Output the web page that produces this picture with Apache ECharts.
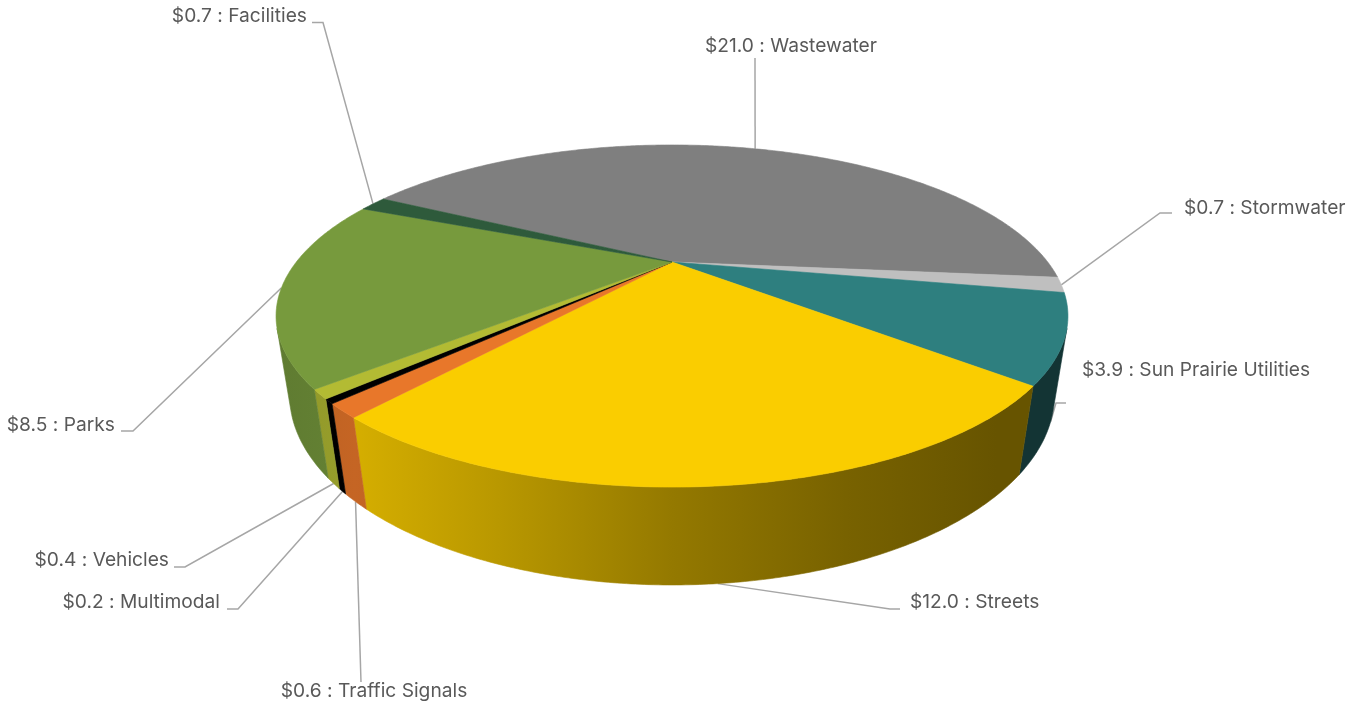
<!DOCTYPE html>
<html>
<head>
<meta charset="utf-8">
<title>Capital spending by program</title>
<script src="https://cdn.jsdelivr.net/npm/echarts@6/dist/echarts.min.js"></script>
<style>
  html, body { margin: 0; padding: 0; background: #ffffff; }
  #chart { width: 1368px; height: 706px; }
</style>
</head>
<body>
<div id="chart"></div>
<script>
// Program names, clockwise from the top of the pie
const categories = ['Wastewater', 'Stormwater', 'Sun Prairie Utilities', 'Streets', 'Traffic Signals',
  'Multimodal', 'Vehicles', 'Parks', 'Facilities'];
// Amounts in $ millions
const values = [21.0, 0.7, 3.9, 12.0, 0.6, 0.2, 0.4, 8.5, 0.7];
// Top-face colour of each slice
const sliceColors = ['#7f7f7f', '#bfbfbf', '#2e7f7f', '#facd00', '#e8772a', '#000000', '#b3bb33', '#779a3d', '#2e5a3b'];

// Label placement: text anchor, alignment, leader elbow and the end of the short horizontal tail
const labelLayout = [
  { x: 791,  y: 46,  align: 'center', elbow: [755, 58] },
  { x: 1184, y: 208, align: 'left',   elbow: [1160, 213], tail: 1172 },
  { x: 1082, y: 370, align: 'left',   elbow: [1056, 403], tail: 1066 },
  { x: 910,  y: 602, align: 'left',   elbow: [890, 609],  tail: 900 },
  { x: 374,  y: 691, align: 'center', elbow: [361, 682] },
  { x: 220,  y: 602, align: 'right',  elbow: [238, 609],  tail: 227 },
  { x: 169,  y: 560, align: 'right',  elbow: [185, 567],  tail: 174 },
  { x: 115,  y: 425, align: 'right',  elbow: [133, 431],  tail: 121 },
  { x: 307,  y: 16,  align: 'right',  elbow: [323, 22.5], tail: 312 }
];

// Perspective camera for the tilted disc (unit radius, angles clockwise from the far edge)
const view = { cx: 672, cy: 262, k: 1085, dist: 2.888, tilt: 24.2, depth: 0.2256, start: -62 };
// Side-wall lighting: brightness factor across the pie from left to right
const wallLight = [[0, 0.80], [0.10, 0.85], [0.28, 0.74], [0.5, 0.59], [0.72, 0.48], [0.91, 0.41], [1, 0.41]];

const total = values.reduce((a, b) => a + b, 0);
const cumulative = values.reduce((acc, v, i) => { acc.push((acc[i] || 0) + v); return acc; }, [0]);

const sinT = Math.sin(view.tilt * Math.PI / 180);
const cosT = Math.cos(view.tilt * Math.PI / 180);

function project(phiDeg, h, r) {
  const rad = phiDeg * Math.PI / 180;
  const rr = r === undefined ? 1 : r;
  const X = rr * Math.sin(rad);
  const Z = -rr * Math.cos(rad);
  const den = view.dist + h * sinT - Z * cosT;
  return [view.cx + view.k * X / den, view.cy + view.k * (h * cosT + Z * sinT) / den];
}

// Wall is visible between the two silhouette generators of the cylinder
const tangentDeg = Math.acos(-1 / (view.dist * cosT)) * 180 / Math.PI;
const wallRange = [tangentDeg, 360 - tangentDeg];

function arc(a1, a2, h) {
  const pts = [];
  const n = Math.max(2, Math.ceil(Math.abs(a2 - a1) / 0.5));
  for (let j = 0; j <= n; j++) pts.push(project(a1 + (a2 - a1) * j / n, h));
  return pts;
}

function shade(hex, f) {
  const n = parseInt(hex.slice(1), 16);
  const r = Math.round(((n >> 16) & 255) * f);
  const g = Math.round(((n >> 8) & 255) * f);
  const b = Math.round((n & 255) * f);
  return 'rgb(' + r + ',' + g + ',' + b + ')';
}

function sliceAngles(i) {
  const a1 = view.start + 360 * cumulative[i] / total;
  const a2 = view.start + 360 * cumulative[i + 1] / total;
  return [a1, a2];
}

function renderSlice(params, api) {
  const i = params.dataIndex;
  const value = api.value(0);
  const color = sliceColors[i];
  const [a1, a2] = sliceAngles(i);
  const children = [];

  // top face
  const top = [[view.cx, view.cy]].concat(arc(a1, a2, 0));
  children.push({
    type: 'polygon', z2: 20,
    shape: { points: top },
    style: { fill: color, stroke: color, lineWidth: 0.6 }
  });

  // outer wall (visible part only)
  const w1 = Math.max(a1, wallRange[0]);
  const w2 = Math.min(a2, wallRange[1]);
  if (w2 > w1) {
    const left = view.cx - view.k / Math.sqrt(view.dist * view.dist - cosT * cosT);
    const right = 2 * view.cx - left;
    const grad = new echarts.graphic.LinearGradient(left, 0, right, 0,
      wallLight.map(s => ({ offset: s[0], color: shade(color, s[1]) })), true);
    const wall = arc(w1, w2, 0).concat(arc(w1, w2, view.depth).reverse());
    children.push({
      type: 'polygon', z2: 10,
      shape: { points: wall },
      style: { fill: grad, stroke: grad, lineWidth: 0.6 }
    });
  }

  // leader line from the slice's middle angle
  const mid = (a1 + a2) / 2;
  const onWall = mid > wallRange[0] && mid < wallRange[1];
  const anchor = project(mid, onWall ? view.depth : 0);
  const lay = labelLayout[i];
  const pts = [anchor, lay.elbow];
  if (lay.tail !== undefined) pts.push([lay.tail, lay.elbow[1]]);
  children.push({
    type: 'polyline', z2: 5,
    shape: { points: pts },
    style: { stroke: '#a6a6a6', lineWidth: 1.5, fill: null }
  });

  children.push({
    type: 'text', z2: 30,
    style: {
      text: '$' + value.toFixed(1) + ' : ' + categories[i],
      x: lay.x, y: lay.y,
      align: lay.align, verticalAlign: 'middle',
      fill: '#595959',
      font: '19.2px Inter'
    }
  });

  return { type: 'group', children: children };
}

const chart = echarts.init(document.getElementById('chart'), null, { renderer: 'canvas' });
chart.setOption({
  backgroundColor: '#ffffff',
  animation: false,
  series: [{
    type: 'custom',
    coordinateSystem: 'none',
    renderItem: renderSlice,
    data: values.map((v, i) => ({ name: categories[i], value: [v] }))
  }]
});
</script>
</body>
</html>
